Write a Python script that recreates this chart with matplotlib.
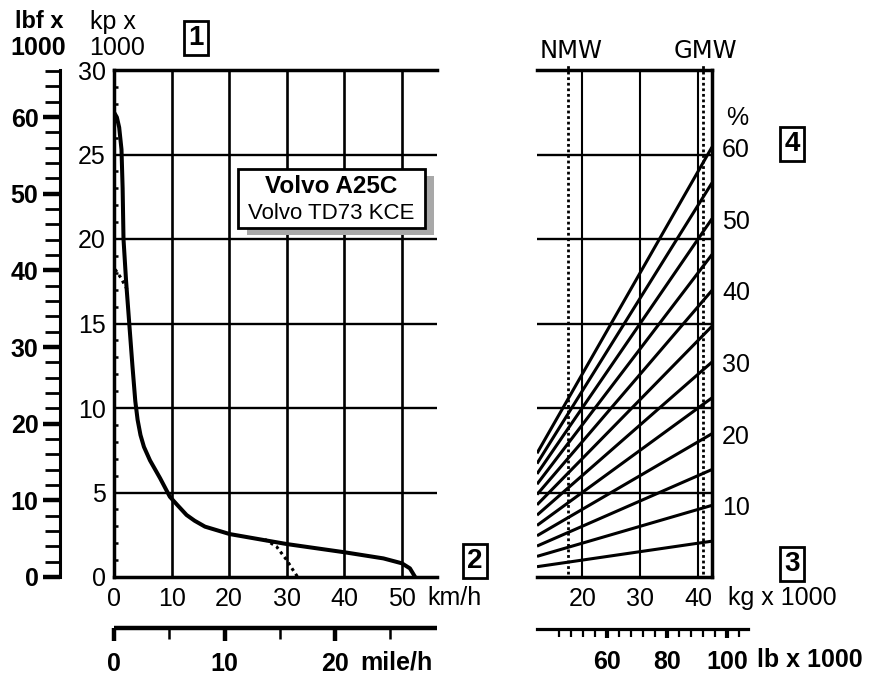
#Volvo A25C 牽引力圖
import matplotlib.pyplot as plt
from matplotlib.patches import Rectangle
from matplotlib.ticker import FixedLocator

plt.rcParams['font.family'] = ['Liberation Sans', 'DejaVu Sans']

#牽引力曲線 (km/h, kp x 1000)
speed = [0.0, 0.5, 0.9, 1.3, 1.5, 1.65, 2.1, 2.65, 3.2, 3.7, 4.1, 4.6, 5.2, 6.25, 8.0,
         9.7, 11.0, 12.6, 14.0, 15.8, 20.1, 30.0, 40.1, 46.8, 50.0, 51.4, 52.3]
force = [27.5, 27.2, 26.6, 25.3, 23.0, 20.0, 17.5, 15.0, 12.5, 10.4, 9.3, 8.4, 7.7, 6.9, 5.85,
         4.75, 4.26, 3.67, 3.33, 2.98, 2.54, 1.95, 1.46, 1.1, 0.81, 0.51, 0.0]
#虛線部分
dot1_speed = [0.2, 1.2, 2.3]
dot1_force = [18.2, 17.7, 17.0]
dot2_speed = [26.2, 28.25, 30.0, 30.9, 31.9]
dot2_force = [2.23, 1.79, 1.0, 0.51, 0.0]

#坡度線 (%)
grades = [5, 10, 15, 20, 25, 30, 35, 40, 45, 50, 55, 60]
grade_labels = [10, 20, 30, 40, 50, 60]
nmw = 17.5   # kg x 1000
gmw = 40.8

kmh_ticks = [0, 10, 20, 30, 40, 50]
kp_ticks = [0, 5, 10, 15, 20, 25, 30]
kg_ticks = [20, 30, 40]
lbf_ticks = [0, 10, 20, 30, 40, 50, 60]
mph_major = [0, 10, 20]
mph_minor = [5, 15, 25]
lb_major = [60, 80, 100]

W, H = 874, 677
fig = plt.figure(figsize=(W / 100, H / 100), dpi=100)

def box(x0, x1, ytop, ybot):
    return [x0 / W, 1 - ybot / H, (x1 - x0) / W, (ybot - ytop) / H]

REG = 18
BOLD = 18

#左圖
ax = fig.add_axes(box(114, 437, 70, 577))
ax.set_xlim(0, 56.1)
ax.set_ylim(0, 30)
ax.spines['right'].set_visible(False)
for s in ['left', 'bottom', 'top']:
    ax.spines[s].set_linewidth(2.5)
ax.set_xticks(kmh_ticks)
ax.set_yticks(kp_ticks)
ax.yaxis.set_minor_locator(FixedLocator(range(0, 31)))
ax.tick_params(axis='x', length=0, pad=7, labelsize=REG)
ax.tick_params(axis='y', which='major', length=0, pad=6, labelsize=REG)
ax.tick_params(axis='y', which='minor', direction='in', length=3, width=1.8)
for v in kmh_ticks[1:]:
    ax.axvline(v, color='black', lw=1.9, zorder=1)
for v in kp_ticks[1:-1]:
    ax.axhline(v, color='black', lw=1.7, zorder=1)

ax.plot(speed, force, color='black', lw=2.9, zorder=3, solid_capstyle='butt')
ax.plot(dot1_speed, dot1_force, color='black', lw=2.2, ls=(0, (1, 1.2)), zorder=3)
ax.plot(dot2_speed, dot2_force, color='black', lw=2.2, ls=(0, (1, 1.2)), zorder=3)

ax.annotate('km/h', xy=(50, 0), xycoords='data', xytext=(25, -21),
            textcoords='offset pixels', ha='left', va='center', fontsize=REG)

#型號方塊
ax.add_patch(Rectangle((0.4118, 0.6746), 0.5789, 0.1169, transform=ax.transAxes,
                       facecolor='#a8a8a8', edgecolor='none', zorder=4))
ax.add_patch(Rectangle((0.3839, 0.6884), 0.5789, 0.1169, transform=ax.transAxes,
                       facecolor='white', edgecolor='black', lw=2, zorder=5))
ax.text(0.671, 0.770, 'Volvo A25C', transform=ax.transAxes, ha='center', va='center',
        fontsize=17.5, fontweight='bold', zorder=6)
ax.text(0.671, 0.717, 'Volvo TD73 KCE', transform=ax.transAxes, ha='center', va='center',
        fontsize=16, zorder=6)

#lbf 軸
KP2LBF = 2.20462
lbf = ax.secondary_yaxis((60 - 114) / 323, functions=(lambda k: k * KP2LBF, lambda l: l / KP2LBF))
lbf.spines['left'].set_linewidth(2.2)
lbf.set_yticks(lbf_ticks)
lbf.yaxis.set_minor_locator(FixedLocator(range(0, 67, 2)))
lbf.tick_params(which='major', length=12.5, width=3.2, pad=3, labelsize=BOLD)
lbf.tick_params(which='minor', length=11, width=2)
for t in lbf.get_yticklabels():
    t.set_fontweight('bold')

#mile/h 軸
MPH = 1.92  # 圖上刻度比例
mph = ax.secondary_xaxis((577 - 628) / 507, functions=(lambda k: k / MPH, lambda m: m * MPH))
mph.spines['bottom'].set_linewidth(3.2)
mph.spines['bottom'].set_capstyle('butt')
mph.set_xticks(mph_major)
mph.xaxis.set_minor_locator(FixedLocator(mph_minor))
mph.tick_params(which='major', length=9, width=3.2, pad=8.5, labelsize=BOLD)
mph.tick_params(which='minor', length=8, width=1.8)
for t in mph.get_xticklabels():
    t.set_fontweight('bold')
ax.annotate('mile/h', xy=(20 * MPH, 0), xycoords='data', xytext=(25, -85),
            textcoords='offset pixels', ha='left', va='center', fontsize=BOLD, fontweight='bold')

#右圖
ax2 = fig.add_axes(box(537, 712, 70, 577))
ax2.set_xlim(12.2, 42.4)
ax2.set_ylim(0, 30)
ax2.spines['left'].set_visible(False)
for s in ['right', 'bottom', 'top']:
    ax2.spines[s].set_linewidth(2.5)
ax2.set_xticks(kg_ticks)
ax2.set_yticks([])
ax2.tick_params(axis='x', length=0, pad=7, labelsize=REG)
for v in kg_ticks:
    ax2.axvline(v, color='black', lw=1.5, zorder=1)
for v in kp_ticks[1:-1]:
    ax2.axhline(v, color='black', lw=1.7, zorder=1)
wmin, wmax = ax2.get_xlim()
for g in grades:
    ax2.plot([wmin, wmax], [wmin * g / 100, wmax * g / 100], color='black', lw=2.2,
             zorder=3, solid_capstyle='butt')
for g in grade_labels:
    ax2.annotate(str(g), xy=(wmax, wmax * g / 100), xytext=(10, -3), textcoords='offset pixels',
                 ha='left', va='center', fontsize=REG)
ax2.annotate('%', xy=(wmax, 0.6 * wmax), xytext=(14, 29), textcoords='offset pixels',
             ha='left', va='center', fontsize=REG)
for v, name in [(nmw, 'NMW'), (gmw, 'GMW')]:
    ax2.plot([v, v], [0.2, 30.4], color='black', lw=2, ls=(0, (1, 1)), zorder=2, clip_on=False)
    ax2.annotate(name, xy=(v, 30), xytext=(3, 19), textcoords='offset pixels', ha='center',
                 va='center', fontsize=17.5, family='DejaVu Sans')
ax2.annotate('kg x 1000', xy=(40, 0), xytext=(30, -21), textcoords='offset pixels',
             ha='left', va='center', fontsize=REG)

#lb 軸
axlb = fig.add_axes(box(537, 748, 628, 629))
axlb.set_xlim(36.7, 107)
axlb.set_ylim(0, 1)
for s in ['left', 'right', 'top']:
    axlb.spines[s].set_visible(False)
axlb.spines['bottom'].set_linewidth(2.3)
axlb.set_yticks([])
axlb.set_xticks(lb_major)
axlb.xaxis.set_minor_locator(FixedLocator(range(44, 109, 4)))
axlb.tick_params(which='major', length=6.5, width=3, pad=8.5, labelsize=BOLD)
axlb.tick_params(which='minor', length=6, width=1.6)
for t in axlb.get_xticklabels():
    t.set_fontweight('bold')
axlb.annotate('lb x 1000', xy=(100, 0), xytext=(30, -31), textcoords='offset pixels',
              ha='left', va='center', fontsize=BOLD, fontweight='bold')

#軸名稱
fig.text(39 / W, 1 - 22 / H, 'lbf x', ha='center', va='center', fontsize=17, fontweight='bold')
fig.text(38 / W, 1 - 48 / H, '1000', ha='center', va='center', fontsize=18, fontweight='bold')
fig.text(113 / W, 1 - 22 / H, 'kp x', ha='center', va='center', fontsize=REG)
fig.text(117 / W, 1 - 48 / H, '1000', ha='center', va='center', fontsize=REG)

#編號方塊
for n, x, y in [('1', 196, 38), ('2', 475, 561), ('3', 792, 564), ('4', 792, 144)]:
    fig.text(x / W, 1 - y / H, n, ha='center', va='center', fontsize=20, fontweight='bold',
             bbox=dict(boxstyle='square,pad=0.15', fc='white', ec='black', lw=2))

fig.savefig('out.png', dpi=100)
